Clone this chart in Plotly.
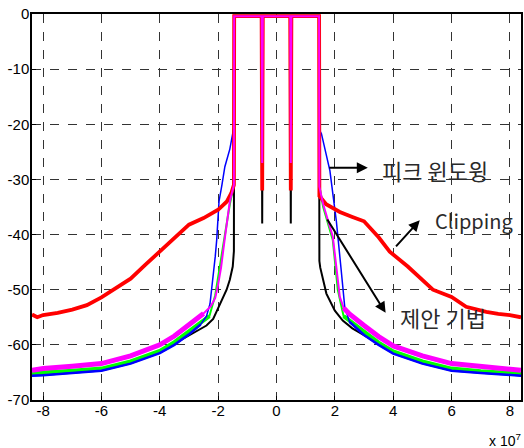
import plotly.graph_objects as go

# Frequency axis in units of 1e7 Hz, PSD in dB
x_ticks = [-8, -6, -4, -2, 0, 2, 4, 6, 8]
x_tick_labels = ["-8", "-6", "-4", "-2", "0", "2", "4", "6", "8"]
y_ticks = [0, -10, -20, -30, -40, -50, -60, -70]
y_tick_labels = ["0", "-10", "-20", "-30", "-40", "-50", "-60", "-70"]

black_x = [-8.38, -8, -7, -6, -5, -4, -3.5, -3, -2.7, -2.4, -2.17, -1.94, -1.71, -1.6, -1.5, -1.46, -1.45,
           -0.51, -0.49, -0.47, 0.47, 0.49, 0.51,
           1.46, 1.47, 1.5, 1.71, 2.0, 2.27, 2.6, 3, 3.5, 4, 5, 6, 7, 8, 8.38]
black_y = [-65.5, -65.3, -65.0, -64.5, -63.2, -61.3, -59.8, -58.3, -57.4, -56.5, -55.3, -52.5, -50.0, -48.2, -45.8, -43.0, -0.3,
           -0.3, -38, -0.3, -0.3, -38, -0.3,
           -0.3, -44.8, -46.0, -50.7, -53.8, -55.6, -57.0, -58.3, -59.8, -61.3, -63.2, -64.5, -65.0, -65.3, -65.5]

green_x = [-8.38, -8, -7, -6, -5, -4, -3.5, -3, -2.5, -2.3, -2.1, -1.95, -1.8, -1.6, -1.47, -1.45,
           -0.51, -0.49, -0.47, 0.47, 0.49, 0.51,
           1.46, 1.48, 1.6, 1.93, 2.1, 2.3, 2.5, 3, 3.5, 4, 5, 6, 7, 8, 8.38]
green_y = [-65.2, -65.0, -64.7, -64.3, -63.0, -61.1, -59.5, -57.6, -55.5, -54.8, -51.0, -46.0, -41.0, -34.5, -31.2, -0.4,
           -0.4, -30, -0.4, -0.4, -30, -0.4,
           -0.4, -31.5, -35.0, -41.0, -50.0, -54.8, -55.6, -57.7, -59.6, -61.2, -63.0, -64.3, -64.8, -65.1, -65.3]

blue_x = [-8.38, -8, -7, -6, -5, -4, -3.5, -3, -2.6, -2.4, -2.28, -2.2, -2.1, -2.05, -1.97, -1.87, -1.77, -1.6, -1.5, -1.46, -1.45,
          -0.51, -0.49, -0.47, 0.47, 0.49, 0.51,
          1.46, 1.47, 1.54, 1.83, 2.05, 2.22, 2.34, 2.5, 3, 3.5, 4, 5, 6, 7, 8, 8.38]
blue_y = [-65.6, -65.5, -65.1, -64.7, -63.4, -61.5, -60.0, -58.1, -56.3, -54.8, -52.6, -49.0, -44.0, -41.0, -34.0, -31.0, -27.7, -24.5, -21.0, -20.5, -0.4,
          -0.4, -27, -0.4, -0.4, -27, -0.4,
          -0.4, -21.0, -21.7, -28.4, -37.5, -46.6, -53.2, -55.8, -58.2, -60.0, -61.6, -63.4, -64.7, -65.1, -65.5, -65.6]

red_x = [-8.38, -8.2, -8, -7.5, -7, -6.5, -6, -5.5, -5, -4.5, -4, -3.5, -3, -2.5, -2, -1.7, -1.55, -1.46, -1.45,
         -0.51, -0.49, -0.47, 0.47, 0.49, 0.51,
         1.46, 1.47, 1.7, 2.17, 2.6, 3, 3.5, 3.88, 4.5, 5, 5.36, 6, 6.5, 7.19, 7.6, 8, 8.38]
red_y = [-54.5, -55.0, -54.6, -54.2, -53.6, -52.8, -51.4, -49.8, -48.0, -45.5, -43.0, -40.5, -38.2, -37.0, -35.5, -34.0, -32.5, -31.0, -0.4,
         -0.4, -32, -0.4, -0.4, -32, -0.4,
         -0.4, -33.0, -34.5, -35.9, -36.8, -37.6, -40.5, -43.1, -45.8, -48.2, -50.0, -51.3, -53.1, -54.0, -54.4, -54.6, -55.0]

magenta_x = [-8.38, -8, -7, -6, -5, -4, -3.5, -3, -2.5, -2.25, -2.1, -2.0, -1.9, -1.78, -1.6, -1.46, -1.45,
             -0.51, -0.49, -0.47, 0.47, 0.49, 0.51,
             1.46, 1.47, 1.6, 1.93, 2.17, 2.3, 2.5, 3, 3.5, 4, 5, 6, 7, 8, 8.38]
magenta_y = [-64.6, -64.3, -63.9, -63.4, -62.0, -60.0, -58.4, -56.4, -54.3, -53.0, -51.5, -49.0, -46.0, -41.0, -34.0, -31.0, -0.4,
             -0.4, -27, -0.4, -0.4, -27, -0.4,
             -0.4, -31.3, -34.5, -40.4, -51.3, -53.3, -54.4, -56.5, -58.5, -60.2, -62.0, -63.4, -63.9, -64.3, -64.6]


def floor_part(xs, ys, lim):
    px = [x if abs(x) >= lim else None for x in xs]
    py = [y if abs(x) >= lim else None for x, y in zip(xs, ys)]
    return px, py


fig = go.Figure()

fig.add_trace(go.Scatter(x=black_x, y=black_y, mode="lines", line=dict(color="#000000", width=2)))
gx, gy = floor_part(green_x, green_y, 2.3)
fig.add_trace(go.Scatter(x=green_x, y=green_y, mode="lines", line=dict(color="#00ff00", width=2)))
fig.add_trace(go.Scatter(x=gx, y=gy, mode="lines", line=dict(color="#00ff00", width=4), connectgaps=False))
bx, by = floor_part(blue_x, blue_y, 2.5)
fig.add_trace(go.Scatter(x=blue_x, y=blue_y, mode="lines", line=dict(color="#0000ff", width=1.5)))
fig.add_trace(go.Scatter(x=bx, y=by, mode="lines", line=dict(color="#0000ff", width=2.5), connectgaps=False))
fig.add_trace(go.Scatter(x=red_x, y=red_y, mode="lines", line=dict(color="#ff0000", width=3.8)))
mx, my = floor_part(magenta_x, magenta_y, 2.3)
fig.add_trace(go.Scatter(x=magenta_x, y=magenta_y, mode="lines", line=dict(color="#ff00ff", width=2)))
fig.add_trace(go.Scatter(x=mx, y=my, mode="lines", line=dict(color="#ff00ff", width=5), connectgaps=False))

axis_common = dict(
    showgrid=True, gridcolor="#333333", griddash="dash", gridwidth=1,
    showline=True, linecolor="#000000", linewidth=1.5, mirror=True,
    ticks="inside", ticklen=4, tickcolor="#000000",
    zeroline=False, automargin=False,
    tickfont=dict(family="Liberation Sans, Arial, sans-serif", size=15, color="#000000"),
)

fig.update_layout(
    width=524, height=448,
    margin=dict(l=32, r=3, t=14, b=48, autoexpand=False),
    paper_bgcolor="white", plot_bgcolor="white",
    showlegend=False,
    xaxis=dict(range=[-8.38, 8.38], tickvals=x_ticks, ticktext=x_tick_labels, ticklabelstandoff=-4, **axis_common),
    yaxis=dict(range=[-70, 0], tickvals=y_ticks, ticktext=y_tick_labels, ticklabelstandoff=-2, **axis_common),
)

label_font = dict(family="Noto Sans CJK KR, sans-serif", size=22, color="#2a2a2a")
latin_font = dict(family="Noto Sans CJK KR, sans-serif", size=20, color="#2a2a2a")
arrow_style = dict(showarrow=True, arrowhead=2, arrowsize=1.1, arrowwidth=2, arrowcolor="#000000",
                   axref="x", ayref="y", text="", standoff=0, startstandoff=0)

fig.add_annotation(x=3.13, y=-27.9, ax=1.76, ay=-27.9, **arrow_style)
fig.add_annotation(x=4.91, y=-37.4, ax=4.05, ay=-42.4, **arrow_style)
fig.add_annotation(x=3.74, y=-54.2, ax=1.71, ay=-37.0, **arrow_style)

fig.add_annotation(x=3.55, y=-28.3, text="피크 윈도윙", showarrow=False, xanchor="left", yanchor="middle", font=label_font)
fig.add_annotation(x=5.35, y=-37.4, text="Clipping", showarrow=False, xanchor="left", yanchor="middle", font=latin_font)
fig.add_annotation(x=4.17, y=-54.9, text="제안 기법", showarrow=False, xanchor="left", yanchor="middle", font=label_font)

fig.add_annotation(xref="paper", yref="paper", x=1.005, y=-0.104, xanchor="right", yanchor="middle",
                   text="x 10<sup>7</sup>", showarrow=False,
                   font=dict(family="Liberation Sans, Arial, sans-serif", size=14, color="#000000"))

fig.write_html(
    "out.html",
    config={"displayModeBar": False},
    post_script="document.body.style.margin='0';document.body.style.overflow='hidden';",
)
